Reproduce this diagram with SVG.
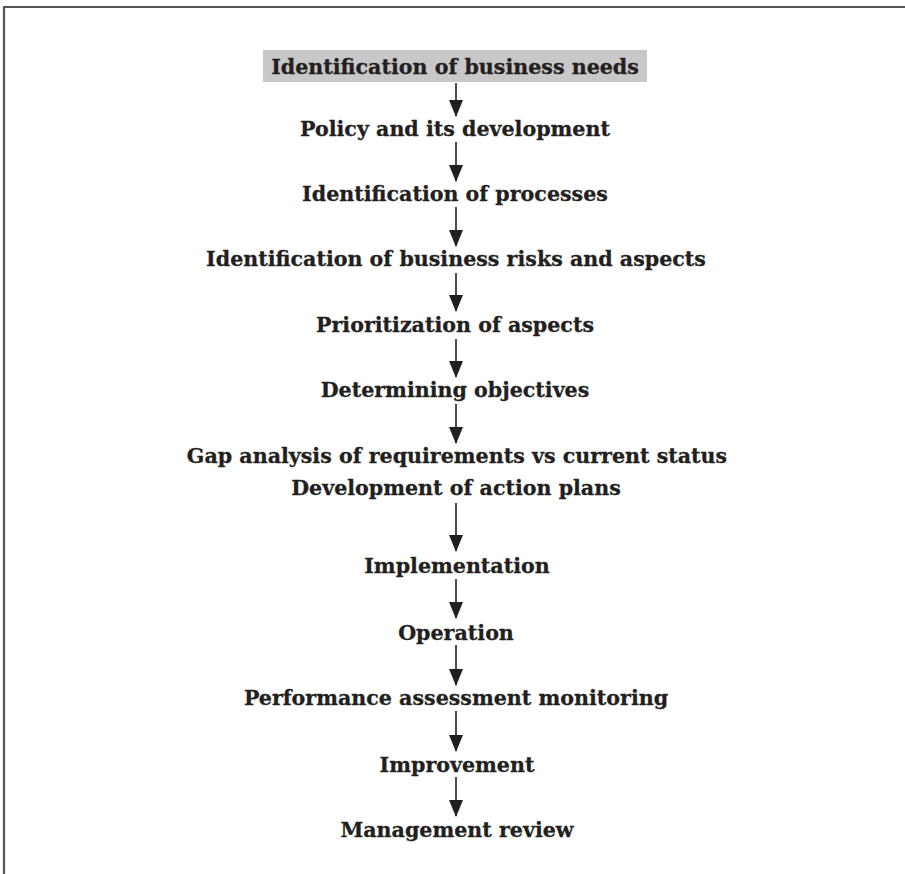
<svg xmlns="http://www.w3.org/2000/svg" width="905" height="874" viewBox="0 0 905 874">
  <style>
    .step { font-family: "DejaVu Serif", "Liberation Serif", serif; font-weight: bold; font-size: 20.6px; fill: #231f20; stroke: #231f20; stroke-width: 0.3; text-anchor: middle; }
    .flow { stroke: #231f20; stroke-width: 1.6; fill: none; }
    .frame { stroke: #555; stroke-width: 2.2; fill: none; }
  </style>
  <defs>
    <!-- solid triangular arrowhead; tip at the path end -->
    <marker id="head" viewBox="0 0 17 14" refX="16" refY="7" markerWidth="17" markerHeight="14" markerUnits="userSpaceOnUse" orient="auto">
      <path d="M0,0 L17,7 L0,14 Z" fill="#231f20"/>
    </marker>
  </defs>
  <rect width="905" height="874" fill="#fff"/>
  <!-- frame: top and left rules only -->
  <path class="frame" d="M4,874 L4,7 L905,7"/>

  <g id="n1">
    <rect x="263" y="50" width="384" height="32" fill="#c8c8c8"/>
    <text class="step" x="455" y="74">Identification of business needs</text>
  </g>
  <g id="n2"><text class="step" x="455" y="136">Policy and its development</text></g>
  <g id="n3"><text class="step" x="455" y="201">Identification of processes</text></g>
  <g id="n4"><text class="step" x="456" y="266">Identification of business risks and aspects</text></g>
  <g id="n5"><text class="step" x="455" y="332">Prioritization of aspects</text></g>
  <g id="n6"><text class="step" x="455" y="397">Determining objectives</text></g>
  <g id="n7">
    <text class="step" x="457" y="463">Gap analysis of requirements vs current status</text>
    <text class="step" x="456" y="495">Development of action plans</text>
  </g>
  <g id="n8"><text class="step" x="457" y="573">Implementation</text></g>
  <g id="n9"><text class="step" x="456" y="640">Operation</text></g>
  <g id="n10"><text class="step" x="456" y="705">Performance assessment monitoring</text></g>
  <g id="n11"><text class="step" x="457" y="772">Improvement</text></g>
  <g id="n12"><text class="step" x="457" y="837">Management review</text></g>

  <g id="connectors">
    <path class="flow" marker-end="url(#head)" d="M456,83 V116"/>
    <path class="flow" marker-end="url(#head)" d="M456,142 V181"/>
    <path class="flow" marker-end="url(#head)" d="M456,207 V246"/>
    <path class="flow" marker-end="url(#head)" d="M456,273 V311"/>
    <path class="flow" marker-end="url(#head)" d="M456,339 V377"/>
    <path class="flow" marker-end="url(#head)" d="M456,404 V443"/>
    <path class="flow" marker-end="url(#head)" d="M456,503 V551"/>
    <path class="flow" marker-end="url(#head)" d="M456,579 V618"/>
    <path class="flow" marker-end="url(#head)" d="M456,645 V685"/>
    <path class="flow" marker-end="url(#head)" d="M456,711 V751"/>
    <path class="flow" marker-end="url(#head)" d="M456,777 V816"/>
  </g>
</svg>
